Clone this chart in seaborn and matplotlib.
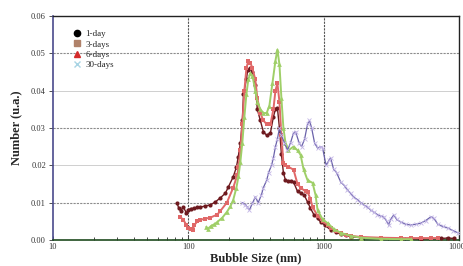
import matplotlib as mpl
mpl.use('Agg')
import matplotlib.pyplot as plt
from matplotlib.lines import Line2D
import numpy as np
import pandas as pd
import seaborn as sns

# bubble size (nm) and number distribution (u.a.) for each ageing time
d_1day = [83, 85, 88, 92, 97, 100, 104, 111, 117, 123, 134, 146, 159, 173, 188, 198, 215, 227,
          234, 243, 251, 256, 269, 275, 288, 298, 313, 324, 341, 359, 380, 405, 426, 441, 456,
          472, 488, 505, 523, 550, 570, 600, 642, 676, 720, 761, 800, 850, 903, 951, 1017,
          1127, 1228, 1338, 1456, 1585, 1880, 2641, 3718, 5230, 7357, 8290, 9190]
n_1day = [0.0098, 0.0085, 0.0078, 0.0088, 0.0072, 0.0080, 0.0084, 0.0085, 0.0087, 0.0088,
          0.0091, 0.0094, 0.0102, 0.0113, 0.0125, 0.0142, 0.0169, 0.0195, 0.0222, 0.026,
          0.032, 0.039, 0.043, 0.0455, 0.046, 0.045, 0.0415, 0.035, 0.032, 0.029, 0.028,
          0.0287, 0.033, 0.035, 0.0354, 0.030, 0.023, 0.018, 0.016, 0.0158, 0.0157, 0.0155,
          0.013, 0.0126, 0.012, 0.0102, 0.0085, 0.0067, 0.0058, 0.0048, 0.0040, 0.0027,
          0.0020, 0.0016, 0.0012, 0.0009, 0.0006, 0.0004, 0.0003, 0.0003, 0.0004, 0.0005,
          0.0004]

d_3days = [87, 92, 97, 100, 104, 108, 111, 117, 123, 134, 146, 164, 173, 193, 215, 231, 235,
           243, 251, 260, 269, 278, 288, 298, 313, 324, 341, 359, 380, 405, 426, 441, 456, 472,
           488, 505, 523, 550, 600, 642, 676, 736, 761, 800, 829, 903, 984, 1071, 1127, 1228,
           1338, 1456, 1585, 1880, 2641, 3718, 4409, 5230, 6206, 7000]
n_3days = [0.0062, 0.0054, 0.0040, 0.0032, 0.0030, 0.0027, 0.0040, 0.0050, 0.0054, 0.0057,
           0.0060, 0.0068, 0.0078, 0.0100, 0.0140, 0.0175, 0.0195, 0.024, 0.031, 0.040, 0.046,
           0.048, 0.0475, 0.046, 0.043, 0.038, 0.034, 0.032, 0.031, 0.031, 0.035, 0.040,
           0.042, 0.037, 0.028, 0.0206, 0.020, 0.0196, 0.0188, 0.015, 0.014, 0.013, 0.0129,
           0.011, 0.0088, 0.0065, 0.0050, 0.0040, 0.0032, 0.0025, 0.0018, 0.0014, 0.0011,
           0.0008, 0.0006, 0.0005, 0.0005, 0.0005, 0.0005, 0.0005]

d_6days = [136, 140, 148, 156, 164, 179, 193, 205, 215, 227, 235, 243, 251, 260, 269, 278, 288,
           298, 313, 324, 341, 359, 380, 398, 419, 441, 456, 472, 488, 505, 523, 550, 600, 642,
           676, 711, 761, 829, 873, 903, 984, 1071, 1185, 1338, 1585, 1880, 2641, 3718, 4409]
n_6days = [0.0035, 0.0030, 0.0038, 0.0042, 0.0048, 0.0060, 0.0075, 0.0090, 0.0107, 0.014,
           0.017, 0.021, 0.026, 0.033, 0.039, 0.043, 0.0447, 0.044, 0.040, 0.037, 0.035,
           0.034, 0.034, 0.036, 0.042, 0.048, 0.051, 0.047, 0.038, 0.030, 0.026, 0.024, 0.025,
           0.024, 0.0228, 0.019, 0.016, 0.0153, 0.012, 0.008, 0.0055, 0.0045, 0.0030, 0.0019,
           0.0011, 0.0006, 0.0003, 0.0002, 0.0002]

d_30days = [251, 264, 273, 283, 298, 313, 329, 347, 359, 380, 392, 413, 426, 441, 456, 472, 488,
            514, 541, 570, 600, 621, 660, 688, 724, 761, 787, 816, 858, 903, 951, 984, 1043,
            1100, 1127, 1185, 1250, 1338, 1432, 1495, 1585, 1663, 1780, 1880, 2013, 2118, 2228,
            2344, 2500, 2641, 2780, 2930, 3027, 3130, 3300, 3470, 3718, 4050, 4409, 4800, 5230,
            5690, 6206, 6530, 6987, 7600, 8290, 9050, 9840]
n_30days = [0.010, 0.0094, 0.0088, 0.0080, 0.0098, 0.0115, 0.010, 0.012, 0.014, 0.016, 0.018,
            0.020, 0.022, 0.025, 0.027, 0.030, 0.028, 0.026, 0.024, 0.026, 0.0287, 0.029,
            0.026, 0.025, 0.027, 0.031, 0.032, 0.030, 0.026, 0.0246, 0.025, 0.0246, 0.020,
            0.0214, 0.022, 0.019, 0.018, 0.0155, 0.0145, 0.0134, 0.0125, 0.0115, 0.0108,
            0.010, 0.0092, 0.0088, 0.0080, 0.0075, 0.0068, 0.0064, 0.0062, 0.0050, 0.0040,
            0.0055, 0.0067, 0.0055, 0.0048, 0.0042, 0.0040, 0.0042, 0.0045, 0.0052, 0.0062,
            0.0058, 0.0042, 0.0036, 0.0032, 0.0025, 0.0019]

legend_labels = ['1-day', '3-days', '6-days', '30-days']

sns.set_style('white')
plt.rcParams['font.family'] = ['Liberation Serif', 'DejaVu Serif']

f = plt.figure(figsize=(4.64, 2.66), dpi=100)
ax = f.add_axes([0.114, 0.098, 0.875, 0.842])

series = [
    (d_1day, n_1day, '#6e1a1f', 'o', 3.0, 1.0),
    (d_3days, n_3days, '#e06868', 's', 3.2, 1.4),
    (d_6days, n_6days, '#9fcf68', '^', 3.4, 1.4),
    (d_30days, n_30days, '#6a62aa', 'x', 2.5, 0.9),
]
for x, y, c, m, ms, lw in series:
    df = pd.DataFrame({'size': x, 'number': y})
    sns.lineplot(data=df, x='size', y='number', ax=ax, color=c, marker=m, markersize=ms,
                 markeredgewidth=0.6 if m == 'x' else 0, markeredgecolor='#c4b6e6' if m == 'x' else c,
                 linewidth=lw, sort=False, zorder=3)

ax.set_xscale('log')
ax.set_xlim(10, 10000)
ax.set_ylim(0, 0.06)
ax.set_xticks([10, 100, 1000, 10000])
ax.set_xticklabels(['10', '100', '1000', '10000'])
ax.set_yticks(np.arange(0, 0.061, 0.01))
ax.set_yticklabels(['%.2f' % v for v in np.arange(0, 0.061, 0.01)])
ax.tick_params(axis='both', labelsize=6, colors='#333333', pad=2)
ax.tick_params(axis='y', direction='out', length=3, width=0.6, left=True)
ax.tick_params(axis='x', which='major', direction='in', length=3, width=0.6, bottom=True)
ax.tick_params(axis='x', which='minor', direction='in', length=2.5, width=0.6, bottom=True)

ax.grid(True, axis='both', which='major', zorder=0)
for i, gl in enumerate(ax.get_ygridlines()):
    if i in (1, 3, 5):
        gl.set_linestyle((0, (2, 1)))
        gl.set_color('#8c8c8c')
        gl.set_linewidth(0.8)
    elif i in (2, 4):
        gl.set_linestyle('-')
        gl.set_color('#c8c8c8')
        gl.set_linewidth(0.6)
    else:
        gl.set_visible(False)
for i, gl in enumerate(ax.get_xgridlines()):
    if i in (1, 2):
        gl.set_linestyle((0, (2, 1)))
        gl.set_color('#555555')
        gl.set_linewidth(0.8)
    else:
        gl.set_visible(False)

for side in ['top', 'right']:
    ax.spines[side].set_color('#222222')
    ax.spines[side].set_linewidth(1.0)
ax.spines['left'].set_color('#4a4a8c')
ax.spines['left'].set_linewidth(1.2)
ax.spines['bottom'].set_color('#1e4a1e')
ax.spines['bottom'].set_linewidth(1.2)

ax.set_xlabel('Bubble Size (nm)', fontsize=9, fontweight='bold', labelpad=1)
ax.set_ylabel('Number (u.a.)', fontsize=9, fontweight='bold', labelpad=6)

handles = [
    Line2D([], [], linestyle='none', marker='o', color='black', markersize=4.5),
    Line2D([], [], linestyle='none', marker='s', color='#b0826a', markersize=4),
    Line2D([], [], linestyle='none', marker='^', color='#d42a2a', markersize=4.5),
    Line2D([], [], linestyle='none', marker='x', color='#a8d4e4', markersize=4, markeredgewidth=1),
]
ax.legend(handles=handles, labels=legend_labels, loc='upper left', bbox_to_anchor=(0.035, 0.965),
          frameon=False, fontsize=6.5, handlelength=0.8, handletextpad=0.5, labelspacing=0.2,
          borderpad=0.2)

plt.savefig('out.png', dpi=100)
